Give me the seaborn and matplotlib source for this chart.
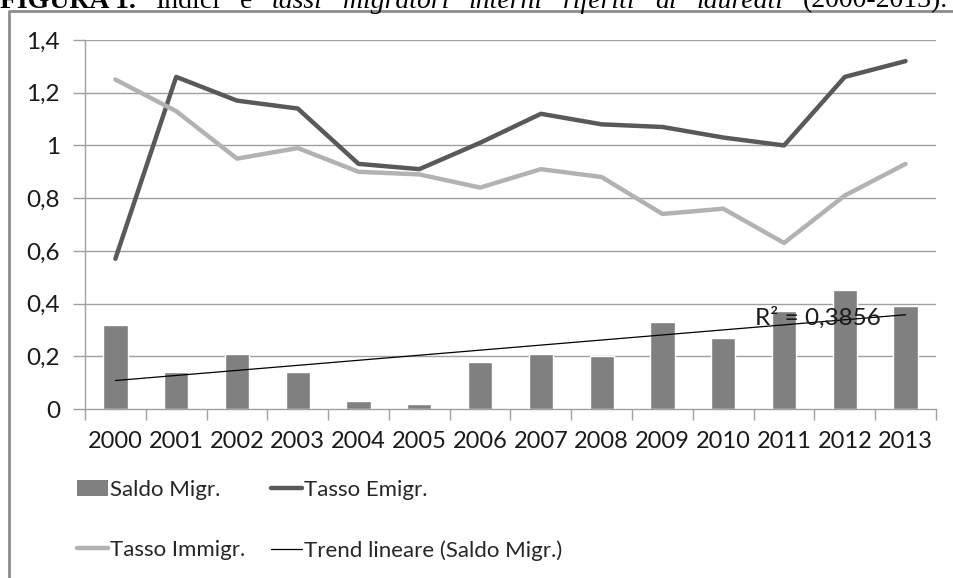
import numpy as np
import pandas as pd
import seaborn as sns
import matplotlib
matplotlib.use("Agg")
import matplotlib.pyplot as plt
from matplotlib.lines import Line2D
from matplotlib.patches import Patch

# --- data -------------------------------------------------------------
years = ["2000", "2001", "2002", "2003", "2004", "2005", "2006",
         "2007", "2008", "2009", "2010", "2011", "2012", "2013"]
saldo_migr = [0.32, 0.14, 0.21, 0.14, 0.03, 0.02, 0.18,
              0.21, 0.20, 0.33, 0.27, 0.37, 0.45, 0.39]
tasso_emigr = [0.57, 1.26, 1.17, 1.14, 0.93, 0.91, 1.01,
               1.12, 1.08, 1.07, 1.03, 1.00, 1.26, 1.32]
tasso_immigr = [1.25, 1.13, 0.95, 0.99, 0.90, 0.89, 0.84,
                0.91, 0.88, 0.74, 0.76, 0.63, 0.81, 0.93]
r2_label = "R² = 0,3856"
yticks = [0, 0.2, 0.4, 0.6, 0.8, 1.0, 1.2, 1.4]
ytick_labels = ["0", "0,2", "0,4", "0,6", "0,8", "1", "1,2", "1,4"]
# heading words with (weight, style); the line is set justified
title_words = [
    ("FIGURA 1.", "bold", "normal"),
    ("Indici", "normal", "normal"), ("e", "normal", "normal"),
    ("tassi", "normal", "italic"), ("migratori", "normal", "italic"),
    ("interni", "normal", "italic"), ("riferiti", "normal", "italic"),
    ("ai", "normal", "italic"), ("laureati", "normal", "italic"),
    ("(2000-2013).", "normal", "normal"),
]

df = pd.DataFrame({"anno": years, "saldo": saldo_migr,
                   "emigr": tasso_emigr, "immigr": tasso_immigr})
df["pos"] = np.arange(len(years))

# --- style ------------------------------------------------------------
sns.set_theme(style="white")
plt.rcParams["font.family"] = ["Lato", "DejaVu Sans"]

W, H = 954, 578
fig = plt.figure(figsize=(W / 100, H / 100), dpi=100)
ax = fig.add_axes([85 / W, 1 - 409 / H, (936 - 85) / W, (409 - 40) / H])

BAR = "#808080"
EMI = "#595959"
IMM = "#b2b2b2"
GRID = "#a0a0a0"
TXT = "#1a1a1a"

# grid under the data
for v in yticks[1:]:
    ax.axhline(v, color=GRID, lw=1.0, zorder=0)

sns.barplot(data=df, x="pos", y="saldo", color=BAR, width=0.4,
            saturation=1, ax=ax, zorder=2)

sns.lineplot(data=df, x="pos", y="emigr", color=EMI, lw=3.2, ax=ax,
             zorder=3, solid_capstyle="round")
sns.lineplot(data=df, x="pos", y="immigr", color=IMM, lw=3.2, ax=ax,
             zorder=3, solid_capstyle="round")

# linear trend of Saldo Migr.
xs = df["pos"].to_numpy(dtype=float)
coef = np.polyfit(xs + 1, df["saldo"].to_numpy(), 1)
trend = np.polyval(coef, xs + 1)
sns.lineplot(x=xs, y=trend, color="black", lw=0.9, ax=ax, zorder=4)
ax.text(10.52, 0.345, r2_label, ha="left", va="center", fontsize=17.5,
        color=TXT, zorder=5)

ax.set_xlim(-0.5, len(years) - 0.5)
ax.set_ylim(0, 1.4)
ax.set_xlabel("")
ax.set_ylabel("")
ax.set_yticks(yticks)
ax.set_yticklabels(ytick_labels)
ax.set_xticks(np.arange(len(years)))
ax.set_xticklabels(years)
ax.set_xticks(np.arange(len(years) + 1) - 0.5, minor=True)
ax.tick_params(axis="x", which="major", length=0, pad=16, labelsize=17,
               labelcolor=TXT)
ax.tick_params(axis="x", which="minor", length=8, width=1, color=GRID,
               direction="out", bottom=True)
ax.tick_params(axis="y", length=9, width=1, color=GRID, pad=9,
               labelsize=17.5, labelcolor=TXT, left=True)
for s in ["top", "right"]:
    ax.spines[s].set_visible(False)
for s in ["left", "bottom"]:
    ax.spines[s].set_color(GRID)
    ax.spines[s].set_linewidth(1.0)

# legend below the plot
handles = [
    Patch(facecolor=BAR, edgecolor="none", label="Saldo Migr."),
    Line2D([], [], color=IMM, lw=3.2, label="Tasso Immigr."),
    Line2D([], [], color=EMI, lw=3.2, label="Tasso Emigr."),
    Line2D([], [], color="black", lw=0.9, label="Trend lineare (Saldo Migr.)"),
]
fig.legend(handles=handles, loc="upper left",
           bbox_to_anchor=(77 / W, 1 - 480 / H), ncol=2, frameon=False,
           fontsize=16, handlelength=1.4, handletextpad=0.1,
           columnspacing=1.15, labelspacing=1.8, borderaxespad=0,
           borderpad=0)

# outer frame
frame = Line2D([9 / W, 9 / W, 1.0], [0.0, 1 - 11 / H, 1 - 11 / H],
               transform=fig.transFigure, color="#8c8c8c", lw=2.0)
fig.add_artist(frame)

# heading: justified across the page width, top part above the edge
ty = 1 - 7.5 / H
x_left, x_right = 0.0, 948.0
renderer = fig.canvas.get_renderer()
texts = []
for word, weight, style in title_words:
    t = fig.text(0, ty, word, fontsize=20, fontweight=weight,
                 fontstyle=style, family=["Liberation Serif"],
                 va="baseline", ha="left", color="black")
    texts.append(t)
widths = [t.get_window_extent(renderer=renderer).width for t in texts]
gap = (x_right - x_left - sum(widths)) / (len(texts) - 1)
x = x_left
for t, w in zip(texts, widths):
    t.set_x(x / W)
    x += w + gap

fig.savefig("out.png", dpi=100)
